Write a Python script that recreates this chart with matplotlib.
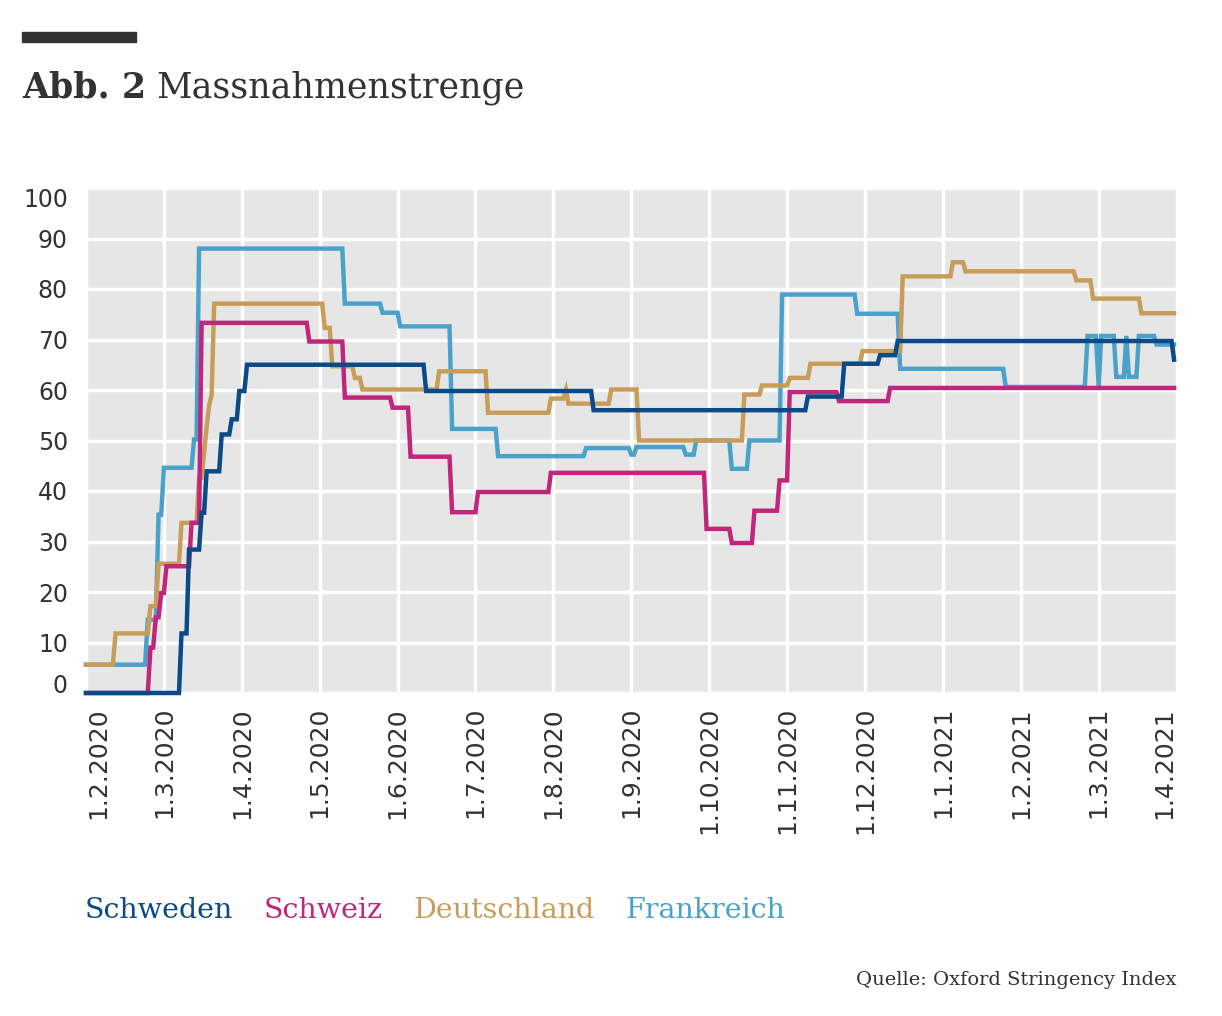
import matplotlib.pyplot as plt
from matplotlib.patches import Rectangle
import pandas as pd

W, H = 1222, 1016
END = '2021-03-31'

# stringency index, value holds from the date on
schweden_dates = ['2020-02-01', '2020-03-08', '2020-03-11', '2020-03-16', '2020-03-18',
                  '2020-03-24', '2020-03-28', '2020-03-31', '2020-04-03', '2020-06-12',
                  '2020-08-17', '2020-11-09', '2020-11-23', '2020-12-07', '2020-12-14',
                  '2021-03-31']
schweden_vals = [0, 11.8, 28.4, 35.7, 43.9, 51.2, 54.2, 59.8, 65.0, 59.8,
                 56.0, 58.7, 65.2, 66.9, 69.7, 66.0]

schweiz_dates = ['2020-02-01', '2020-02-25', '2020-02-27', '2020-02-29', '2020-03-02',
                 '2020-03-12', '2020-03-16', '2020-04-27', '2020-05-11', '2020-05-30',
                 '2020-06-06', '2020-06-22', '2020-07-02', '2020-07-31', '2020-09-30',
                 '2020-10-10', '2020-10-19', '2020-10-29', '2020-11-02', '2020-11-21',
                 '2020-12-11']
schweiz_vals = [0, 9.0, 15.0, 19.8, 25.1, 33.7, 73.3, 69.6, 58.5, 56.5,
                46.8, 35.8, 39.8, 43.6, 32.5, 29.7, 36.1, 42.1, 59.6, 57.8,
                60.4]

deutschland_dates = ['2020-02-01', '2020-02-12', '2020-02-25', '2020-02-28', '2020-03-08',
                     '2020-03-15', '2020-03-17', '2020-03-18', '2020-03-19', '2020-03-20',
                     '2020-03-21', '2020-05-03', '2020-05-06', '2020-05-15', '2020-05-18',
                     '2020-06-17', '2020-07-06', '2020-07-31', '2020-08-06', '2020-08-07',
                     '2020-08-24', '2020-09-04', '2020-10-15', '2020-10-22', '2020-11-02',
                     '2020-11-10', '2020-11-30', '2020-12-16', '2021-01-05', '2021-01-10',
                     '2021-02-21', '2021-02-27', '2021-03-18']
deutschland_vals = [5.6, 11.8, 17.2, 25.6, 33.7, 42.6, 47.5, 52.6, 57.0, 59.0,
                    77.1, 72.3, 64.7, 62.4, 60.1, 63.7, 55.5, 58.3, 60.0, 57.3,
                    60.1, 50.0, 59.1, 60.9, 62.4, 65.2, 67.7, 82.5, 85.3, 83.5,
                    81.7, 78.1, 75.2]

frankreich_dates = ['2020-02-01', '2020-02-24', '2020-02-28', '2020-03-01', '2020-03-13',
                    '2020-03-15', '2020-05-11', '2020-05-26', '2020-06-02', '2020-06-22',
                    '2020-07-10', '2020-08-14', '2020-09-01', '2020-09-03', '2020-09-22',
                    '2020-09-26', '2020-10-10', '2020-10-17', '2020-10-30', '2020-11-28',
                    '2020-12-15', '2021-01-26', '2021-02-25', '2021-03-01', '2021-03-02',
                    '2021-03-08', '2021-03-12', '2021-03-13', '2021-03-17', '2021-03-24']
frankreich_vals = [5.6, 14.5, 35.3, 44.6, 50.2, 88.0, 77.1, 75.3, 72.6, 52.3,
                   46.9, 48.5, 47.2, 48.7, 47.2, 50.0, 44.4, 50.0, 78.9, 75.1,
                   64.2, 60.6, 70.7, 60.7, 70.7, 62.6, 70.7, 62.6, 70.7, 69.0]

countries = ['Schweden', 'Schweiz', 'Deutschland', 'Frankreich']
colors = ['#0b4a86', '#c0267c', '#c89d5a', '#4aa2cb']
series = [(schweden_dates, schweden_vals), (schweiz_dates, schweiz_vals),
          (deutschland_dates, deutschland_vals), (frankreich_dates, frankreich_vals)]

tick_dates = pd.date_range('2020-02-01', '2021-04-01', freq='MS')


def month_pos(d):
    # every month gets the same width, like the original
    d = pd.DatetimeIndex(d)
    return (d.year - 2020) * 12 + (d.month - 2) + (d.day - 1) / d.days_in_month


def daily(dates, vals):
    s = pd.Series(vals, index=pd.to_datetime(dates))
    s = s[~s.index.duplicated(keep='first')]
    return s.reindex(pd.date_range(s.index[0], END)).ffill()


fig = plt.figure(figsize=(W / 100, H / 100), dpi=100)
ax = fig.add_axes([86 / W, 1 - 693 / H, (1176.6 - 86) / W, 505 / H])
ax.set_facecolor('#e6e6e6')
for sp in ax.spines.values():
    sp.set_visible(False)

ax.set_xlim(0, 14)
ax.set_ylim(0, 100)
ax.set_xticks(month_pos(tick_dates))
ax.set_xticklabels([f'1.{d.month}.{d.year}' for d in tick_dates],
                   rotation=90, fontsize=18, color='#333333', family='DejaVu Sans')
ax.set_yticks(range(0, 101, 10))
ax.set_yticklabels([str(v) for v in range(0, 101, 10)],
                   fontsize=17, color='#333333', family='DejaVu Sans')
ax.tick_params(axis='both', length=0)
ax.tick_params(axis='x', pad=10)
ax.tick_params(axis='y', pad=13)
ax.grid(True, color='white', linewidth=2.4)
ax.set_axisbelow(True)

xl = ax.get_xticklabels()
xl[0].set_ha('left')
xl[-1].set_ha('right')
yl = ax.get_yticklabels()
yl[0].set_va('baseline')
yl[-1].set_va('top')

order = [3, 2, 1, 0]
for i in order:
    s = daily(*series[i])
    ax.plot(month_pos(s.index), s.values, color=colors[i], linewidth=3.2,
            solid_joinstyle='miter', clip_on=False, zorder=3 + (3 - i))

# header
fig.add_artist(Rectangle((22 / W, 1 - 42 / H), 114 / W, 10 / H,
                         transform=fig.transFigure, color='#333333'))
t1 = fig.text(22 / W, 1 - 98 / H, 'Abb. 2', fontsize=25, fontweight='bold',
              family='DejaVu Serif', color='#333333', va='baseline')
ax.annotate('Massnahmenstrenge', xy=(1, 0), xycoords=t1, xytext=(7, 0),
            textcoords='offset points', fontsize=25, family='DejaVu Serif',
            color='#333333', va='bottom', annotation_clip=False)

# legend as coloured words
prev = fig.text(85 / W, 1 - 918 / H, countries[0], fontsize=20.5, family='DejaVu Serif',
                color=colors[0], va='baseline')
for name, c in zip(countries[1:], colors[1:]):
    prev = ax.annotate(name, xy=(1, 0), xycoords=prev, xytext=(22, 0),
                       textcoords='offset points', fontsize=20.5, family='DejaVu Serif',
                       color=c, va='bottom', annotation_clip=False)

fig.text(1176 / W, 1 - 985 / H, 'Quelle: Oxford Stringency Index', fontsize=14,
         family='DejaVu Serif', color='#333333', ha='right', va='baseline')

fig.savefig('out.png', dpi=100)
